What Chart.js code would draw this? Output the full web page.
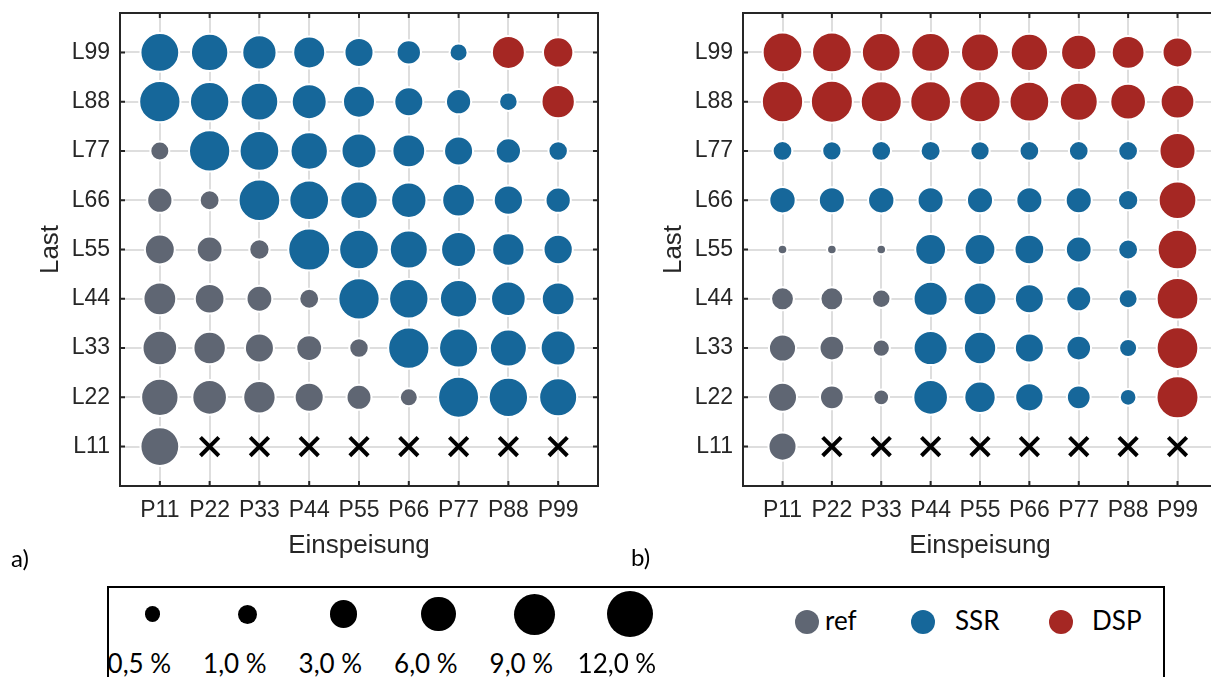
<!DOCTYPE html>
<html>
<head>
<meta charset="utf-8">
<script src="https://cdn.jsdelivr.net/npm/chart.js@4.4.1/dist/chart.umd.min.js"></script>
<style>
  html, body { margin:0; padding:0; background:#fff; }
  body { position:relative; width:1211px; height:677px; overflow:hidden; }
  canvas { position:absolute; top:0; }
  #chartA { left:0; }
  #chartB { left:623px; }
  .txt { position:absolute; font-family:Lato, 'Open Sans', sans-serif; color:#000; white-space:nowrap; }
  .dot { position:absolute; border-radius:50%; }
  #legendBox { position:absolute; left:107px; top:586px; width:1058px; height:120px; border:2px solid #000; box-sizing:border-box; }
</style>
</head>
<body>
<canvas id="chartA" width="610" height="580"></canvas>
<canvas id="chartB" width="606" height="580"></canvas>
<div id="legendBox"></div>
<div class="txt" style="left:11px;top:546px;font-size:24px;line-height:24px;">a)</div>
<div class="txt" style="left:631px;top:545px;font-size:24px;line-height:24px;">b)</div>
<div id="legend"></div>
<script>
// ---------- categories ----------
const einspeisung = ['P11','P22','P33','P44','P55','P66','P77','P88','P99'];
const last = ['L11','L22','L33','L44','L55','L66','L77','L88','L99'];
const seriesNames = ['ref','SSR','DSP'];
const sizeLegendValues = [0.5, 1.0, 3.0, 6.0, 9.0, 12.0];

// ---------- a) values in %, rows L11 -> L99, columns P11 -> P99 (null = no case) ----------
const valuesA = [
  [9.7, null, null, null, null, null, null, null, null],   // L11
  [8.8, 7.2, 6.0, 4.4, 2.8, 0.9, 11.2, 10.1, 9.2],          // L22
  [7.2, 6.0, 4.4, 3.1, 1.2, 11.4, 9.9, 8.6, 7.4],           // L33
  [6.2, 4.7, 3.1, 1.3, 11.4, 10.1, 8.8, 7.2, 6.2],          // L44
  [4.8, 3.1, 1.4, 11.9, 10.3, 9.2, 7.4, 6.0, 4.5],          // L55
  [2.9, 1.3, 11.7, 10.3, 8.8, 7.6, 6.2, 4.5, 2.9],          // L66
  [1.1, 11.4, 10.3, 8.8, 7.4, 6.2, 4.4, 2.9, 1.2],          // L77
  [11.4, 10.1, 9.0, 7.4, 5.8, 4.4, 2.9, 1.0, 6.5],          // L88
  [9.7, 8.8, 7.0, 5.8, 4.4, 2.6, 0.9, 6.3, 5.0]             // L99
];
// R = ref, S = SSR, D = DSP, X = no case
const typesA = [
  'RXXXXXXXX', 'RRRRRRSSS', 'RRRRRSSSS', 'RRRRSSSSS', 'RRRSSSSSS',
  'RRSSSSSSS', 'RSSSSSSSS', 'SSSSSSSSD', 'SSSSSSSDD'
];

// ---------- b) ----------
const valuesB = [
  [4.0, null, null, null, null, null, null, null, null],    // L11
  [4.4, 2.4, 0.5, 7.2, 5.5, 4.1, 2.4, 0.65, 11.9],          // L22
  [3.6, 2.7, 0.76, 6.9, 6.0, 4.4, 2.7, 0.9, 11.7],          // L33
  [2.1, 2.1, 1.0, 6.9, 6.2, 4.4, 2.8, 1.1, 11.7],           // L44
  [0.005, 0.005, 0.005, 5.2, 5.2, 4.7, 3.1, 1.3, 10.3],     // L55
  [3.3, 3.2, 3.3, 3.2, 3.2, 3.2, 3.2, 1.4, 9.0],            // L66
  [1.26, 1.17, 1.26, 1.33, 1.17, 1.26, 1.26, 1.26, 8.0],    // L77
  [11.4, 11.9, 11.2, 11.0, 11.4, 10.3, 9.2, 7.8, 6.7],      // L88
  [10.3, 10.3, 9.7, 9.7, 9.2, 8.8, 7.6, 6.2, 4.8]           // L99
];
const typesB = [
  'RXXXXXXXX', 'RRRSSSSSD', 'RRRSSSSSD', 'RRRSSSSSD', 'RRRSSSSSD',
  'SSSSSSSSD', 'SSSSSSSSD', 'DDDDDDDDD', 'DDDDDDDDD'
];

// ---------- styles ----------
const COLORS = { R: '#5f6673', S: '#16679a', D: '#a52723' };
const TEXT = '#262626';
const GRID = '#dedede';
const FONT = "'Liberation Sans', Arial, Helvetica, sans-serif";
const EDGE = 2;           // white bubble edge
const TICK = 5;           // inward tick length
// bubble diameter in px for a value in %
const chartDiameter = p => 6.96 + 9.57 * Math.sqrt(p);
const LEGEND_SCALE = 1 / 0.87;

const framePlugin = {
  id: 'frame',
  afterDatasetsDraw(chart) {
    const { ctx, chartArea: { left, right, top, bottom }, scales: { x, y } } = chart;
    ctx.save();
    ctx.strokeStyle = TEXT;
    ctx.lineWidth = 2;
    ctx.beginPath();
    x.ticks.forEach(t => {
      const px = x.getPixelForValue(t.value);
      ctx.moveTo(px, bottom); ctx.lineTo(px, bottom - TICK);
      ctx.moveTo(px, top); ctx.lineTo(px, top + TICK);
    });
    y.ticks.forEach(t => {
      const py = y.getPixelForValue(t.value);
      ctx.moveTo(left, py); ctx.lineTo(left + TICK, py);
      ctx.moveTo(right, py); ctx.lineTo(right - TICK, py);
    });
    ctx.stroke();
    ctx.strokeRect(left, top, right - left, bottom - top);
    ctx.restore();
  }
};

function buildDatasets(values, types) {
  const groups = { R: [], S: [], D: [] };
  const cross = [];
  values.forEach((row, yi) => row.forEach((v, xi) => {
    const t = types[yi][xi];
    if (t === 'X' || v === null) cross.push({ x: xi + 1, y: yi + 1, r: 13 });
    else groups[t].push({ x: xi + 1, y: yi + 1, r: chartDiameter(v) / 2 + EDGE / 2, v });
  }));
  const ds = ['R', 'S', 'D'].map((k, i) => ({
    label: seriesNames[i], data: groups[k],
    backgroundColor: COLORS[k], borderColor: '#ffffff', borderWidth: EDGE
  }));
  ds.push({ label: 'x', data: cross, pointStyle: 'crossRot', backgroundColor: '#000', borderColor: '#000', borderWidth: 4 });
  return ds;
}

function axis(labels, isX) {
  const cfg = {
    type: 'linear', min: 0.2, max: 9.8,
    afterBuildTicks: s => { s.ticks = labels.map((_, i) => ({ value: i + 1 })); },
    grid: { color: GRID, lineWidth: 2, drawTicks: false },
    border: { display: false },
    ticks: {
      callback: v => labels[Math.round(v) - 1],
      font: { family: FONT, size: 23 }, color: TEXT,
      autoSkip: false, maxRotation: 0, minRotation: 0
    },
    title: { display: true, color: TEXT, font: { family: FONT, size: 26 } }
  };
  if (isX) {
    cfg.afterFit = s => { s.height = 94; s.paddingLeft = 0; s.paddingRight = 0; };
    cfg.ticks.padding = 11;
    cfg.title.text = 'Einspeisung';
    cfg.title.padding = { top: 0, bottom: 19 };
  } else {
    cfg.grid.drawTicks = true;
    cfg.grid.tickLength = 10;
    cfg.grid.tickColor = 'rgba(0,0,0,0)';
    cfg.afterFit = s => { s.width = 120; s.paddingTop = 0; s.paddingBottom = 0; };
    cfg.ticks.padding = 0;
    cfg.title.text = 'Last';
    cfg.title.padding = { top: 35, bottom: 0 };
  }
  return cfg;
}

function makeChart(id, values, types) {
  return new Chart(document.getElementById(id), {
    type: 'bubble',
    data: { datasets: buildDatasets(values, types) },
    options: {
      responsive: false, animation: false, devicePixelRatio: 1,
      events: [],
      layout: { autoPadding: false, padding: { top: 13, right: 12, bottom: 0, left: 0 } },
      plugins: { legend: { display: false }, tooltip: { enabled: false } },
      scales: { x: axis(einspeisung, true), y: axis(last, false) }
    },
    plugins: [framePlugin]
  });
}

makeChart('chartA', valuesA, typesA);
makeChart('chartB', valuesB, typesB);

// ---------- legend ----------
const legend = document.getElementById('legend');
function add(html) { legend.insertAdjacentHTML('beforeend', html); }
sizeLegendValues.forEach((p, i) => {
  const cx = 152.4 + i * 95.5, cy = 614;
  const d = chartDiameter(p) * LEGEND_SCALE;
  add(`<div class="dot" style="background:#000;width:${d}px;height:${d}px;left:${cx - d / 2}px;top:${cy - d / 2}px"></div>`);
  const label = p.toFixed(1).replace('.', ',') + ' %';
  add(`<div class="txt" style="font-size:26px;line-height:26px;top:650px;left:${cx - 13}px;transform:translateX(-50%)">${label}</div>`);
});
const colorLegendX = [807, 923, 1061];
const colorLegendTextGap = [18, 32, 31];
seriesNames.forEach((name, i) => {
  const k = ['R', 'S', 'D'][i];
  const d = 24, cx = colorLegendX[i], cy = 621.5;
  add(`<div class="dot" style="background:${COLORS[k]};width:${d}px;height:${d}px;left:${cx - d / 2}px;top:${cy - d / 2}px"></div>`);
  add(`<div class="txt" style="font-size:26px;line-height:26px;top:607px;left:${cx + colorLegendTextGap[i]}px">${name}</div>`);
});
</script>
</body>
</html>
